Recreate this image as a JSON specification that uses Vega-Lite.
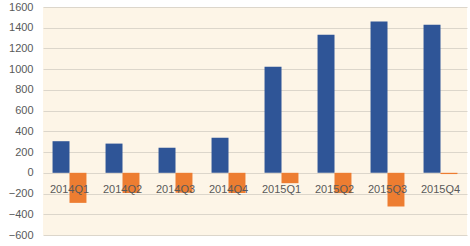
{
  "$schema": "https://vega.github.io/schema/vega-lite/v6.json",
  "width": 424,
  "height": 228,
  "autosize": {"type": "none"},
  "padding": {"left": 43, "top": 7, "right": 3, "bottom": 11},
  "background": "white",
  "config": {
    "view": {"fill": "#FDF5E7", "stroke": null},
    "font": "Liberation Sans",
    "axisY": {
      "format": "d",
      "labelOverlap": false,
      "labelFlush": false,
      "title": null,
      "domain": false,
      "ticks": false,
      "labelPadding": 10,
      "labelFontSize": 11,
      "labelColor": "#595959",
      "gridColor": "#DCD6CB",
      "gridWidth": 1
    }
  },
  "data": {
    "values": [
      {"quarter": "2014Q1", "series": "revenue", "value": 305},
      {"quarter": "2014Q1", "series": "profit", "value": -290},
      {"quarter": "2014Q2", "series": "revenue", "value": 282},
      {"quarter": "2014Q2", "series": "profit", "value": -195},
      {"quarter": "2014Q3", "series": "revenue", "value": 242},
      {"quarter": "2014Q3", "series": "profit", "value": -192},
      {"quarter": "2014Q4", "series": "revenue", "value": 338},
      {"quarter": "2014Q4", "series": "profit", "value": -195},
      {"quarter": "2015Q1", "series": "revenue", "value": 1023},
      {"quarter": "2015Q1", "series": "profit", "value": -100},
      {"quarter": "2015Q2", "series": "revenue", "value": 1332},
      {"quarter": "2015Q2", "series": "profit", "value": -196},
      {"quarter": "2015Q3", "series": "revenue", "value": 1460},
      {"quarter": "2015Q3", "series": "profit", "value": -325},
      {"quarter": "2015Q4", "series": "revenue", "value": 1428},
      {"quarter": "2015Q4", "series": "profit", "value": -12}
    ]
  },
  "encoding": {
    "x": {
      "field": "quarter",
      "type": "nominal",
      "sort": null,
      "scale": {"paddingInner": 0.36, "paddingOuter": 0.18},
      "axis": null
    },
    "y": {
      "type": "quantitative",
      "scale": {"domain": [-600, 1600], "nice": false},
      "axis": {
        "values": [-600, -400, -200, 0, 200, 400, 600, 800, 1000, 1200, 1400, 1600]
      }
    }
  },
  "layer": [
    {
      "mark": {"type": "bar"},
      "encoding": {
        "xOffset": {"field": "series", "type": "nominal", "sort": ["revenue", "profit"], "scale": {"paddingInner": 0, "paddingOuter": 0}},
        "y": {
          "field": "value",
          "type": "quantitative",
          "scale": {"domain": [-600, 1600], "nice": false},
          "axis": {
            "values": [-600, -400, -200, 0, 200, 400, 600, 800, 1000, 1200, 1400, 1600]
          }
        },
        "color": {
          "field": "series",
          "type": "nominal",
          "scale": {"domain": ["revenue", "profit"], "range": ["#2F5597", "#ED7D31"]},
          "legend": null
        }
      }
    },
    {
      "mark": {"type": "text", "fontSize": 11, "color": "#595959", "baseline": "middle", "dy": 17},
      "transform": [{"filter": "datum.series === 'revenue'"}],
      "encoding": {
        "y": {"datum": 0, "type": "quantitative", "scale": {"domain": [-600, 1600], "nice": false},
          "axis": {
            "values": [-600, -400, -200, 0, 200, 400, 600, 800, 1000, 1200, 1400, 1600]
          }},
        "text": {"field": "quarter"}
      }
    }
  ]
}
